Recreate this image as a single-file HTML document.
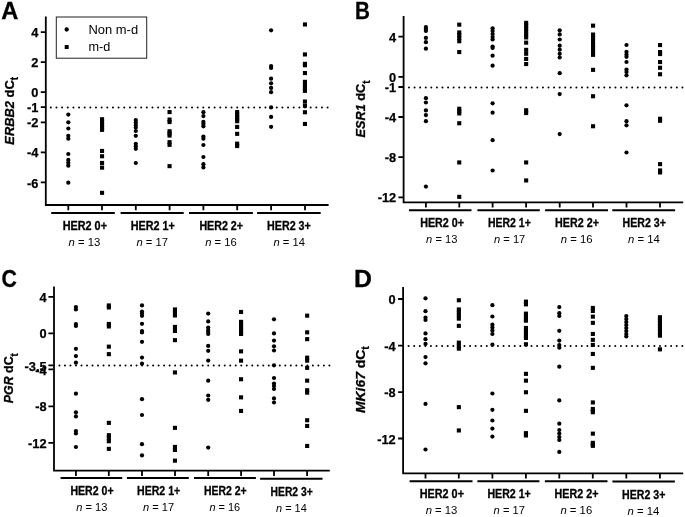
<!DOCTYPE html>
<html lang="en"><head><meta charset="utf-8"><title>Figure</title>
<style>
html,body{margin:0;padding:0;background:#fff;}
body{width:685px;height:517px;overflow:hidden;}
svg{display:block;}
svg text{font-family:"Liberation Sans", "DejaVu Sans", sans-serif;fill:#000;}
.ax{stroke:#000;stroke-width:1.8;stroke-linejoin:miter;fill:none;stroke-linecap:butt;}
.tk{stroke:#000;stroke-width:1.8;fill:none;}
.bar{stroke:#000;stroke-width:2.0;fill:none;}
.dot{stroke:#000;stroke-width:2.0;stroke-linecap:round;fill:none;}
.tl{font-size:12.8px;font-weight:bold;text-anchor:end;stroke:#000;stroke-width:0.25;}
.gl{font-size:12px;font-weight:bold;stroke:#000;stroke-width:0.3;}
.nl{font-size:11.5px;}
.yl{font-size:13px;font-weight:bold;stroke:#000;stroke-width:0.3;}
.pl{font-size:23.2px;font-weight:bold;stroke:#000;stroke-width:0.3;}
.lg{font-size:12px;}
</style></head><body>
<svg width="685" height="517" viewBox="0 0 685 517">
<rect x="0" y="0" width="685" height="517" fill="#fff"/>
<g id="panel-A">
<path class="ax" d="M45.8 16.4 V205.0 H328.6"/>
<path class="tk" d="M40.8 32.1 H45.8M40.8 62.1 H45.8M40.8 92.2 H45.8M40.8 107.2 H45.8M40.8 122.3 H45.8M40.8 152.3 H45.8M40.8 182.4 H45.8"/>
<text class="tl" x="38.4" y="37.2">4</text>
<text class="tl" x="38.4" y="67.2">2</text>
<text class="tl" x="38.4" y="97.3">0</text>
<text class="tl" x="38.4" y="112.3">-1</text>
<text class="tl" x="38.4" y="127.4">-2</text>
<text class="tl" x="38.4" y="157.4">-4</text>
<text class="tl" x="38.4" y="187.5">-6</text>
<path class="tk" d="M68.3 205.0 V210.2M102.0 205.0 V210.2M135.8 205.0 V210.2M169.6 205.0 V210.2M203.4 205.0 V210.2M237.2 205.0 V210.2M271.1 205.0 V210.2M305.0 205.0 V210.2"/>
<path class="bar" d="M51.2 213.0 H114.8M120.6 213.0 H183.7M189.0 213.0 H252.9M257.1 213.0 H320.7"/>
<path class="dot" stroke-dasharray="0 5.649" d="M50.80 107.6 H328.1"/>
<text class="gl" x="62.7" y="230.0" textLength="44.3" lengthAdjust="spacingAndGlyphs">HER2 0+</text>
<text class="gl" x="130.7" y="230.0" textLength="44.1" lengthAdjust="spacingAndGlyphs">HER2 1+</text>
<text class="gl" x="199.4" y="230.0" textLength="43.6" lengthAdjust="spacingAndGlyphs">HER2 2+</text>
<text class="gl" x="267.0" y="230.0" textLength="43.8" lengthAdjust="spacingAndGlyphs">HER2 3+</text>
<text class="nl" x="68.5" y="246.4" textLength="31.8" lengthAdjust="spacingAndGlyphs"><tspan font-style="italic">n</tspan> = 13</text>
<text class="nl" x="136.5" y="246.4" textLength="31.5" lengthAdjust="spacingAndGlyphs"><tspan font-style="italic">n</tspan> = 17</text>
<text class="nl" x="205.2" y="246.4" textLength="31.6" lengthAdjust="spacingAndGlyphs"><tspan font-style="italic">n</tspan> = 16</text>
<text class="nl" x="273.5" y="246.4" textLength="31.5" lengthAdjust="spacingAndGlyphs"><tspan font-style="italic">n</tspan> = 14</text>
<text class="pl" transform="translate(1.3 19.0) scale(1.020 1)">A</text>
<text class="yl" transform="translate(13.6 144.7) rotate(-90)" textLength="67.7" lengthAdjust="spacingAndGlyphs"><tspan font-style="italic">ERBB2</tspan> dC<tspan font-size="10px" dy="4.2">t</tspan></text>
<g fill="#000"><circle cx="68.3" cy="114.6" r="2.12"/><circle cx="68.3" cy="122.3" r="2.12"/><circle cx="68.3" cy="128.5" r="2.12"/><circle cx="68.3" cy="135.8" r="2.12"/><circle cx="68.3" cy="138.7" r="2.12"/><circle cx="68.3" cy="154.0" r="2.12"/><circle cx="68.3" cy="159.9" r="2.12"/><circle cx="68.3" cy="162.8" r="2.12"/><circle cx="68.3" cy="165.7" r="2.12"/><circle cx="68.3" cy="182.7" r="2.12"/><circle cx="135.8" cy="120.0" r="2.12"/><circle cx="135.8" cy="122.5" r="2.12"/><circle cx="135.8" cy="125.0" r="2.12"/><circle cx="135.8" cy="127.5" r="2.12"/><circle cx="135.8" cy="131.0" r="2.12"/><circle cx="135.8" cy="135.8" r="2.12"/><circle cx="135.8" cy="143.8" r="2.12"/><circle cx="135.8" cy="146.3" r="2.12"/><circle cx="135.8" cy="148.8" r="2.12"/><circle cx="135.8" cy="163.0" r="2.12"/><circle cx="203.4" cy="112.2" r="2.12"/><circle cx="203.4" cy="116.1" r="2.12"/><circle cx="203.4" cy="121.9" r="2.12"/><circle cx="203.4" cy="124.0" r="2.12"/><circle cx="203.4" cy="126.3" r="2.12"/><circle cx="203.4" cy="136.5" r="2.12"/><circle cx="203.4" cy="138.7" r="2.12"/><circle cx="203.4" cy="145.0" r="2.12"/><circle cx="203.4" cy="157.0" r="2.12"/><circle cx="203.4" cy="164.2" r="2.12"/><circle cx="203.4" cy="167.4" r="2.12"/><circle cx="271.1" cy="30.3" r="2.12"/><circle cx="271.1" cy="66.1" r="2.12"/><circle cx="271.1" cy="68.0" r="2.12"/><circle cx="271.1" cy="78.7" r="2.12"/><circle cx="271.1" cy="83.3" r="2.12"/><circle cx="271.1" cy="87.9" r="2.12"/><circle cx="271.1" cy="92.2" r="2.12"/><circle cx="271.1" cy="107.4" r="2.12"/><circle cx="271.1" cy="116.9" r="2.12"/><circle cx="271.1" cy="126.8" r="2.12"/></g>
<g fill="#000"><rect x="100.0" y="117.2" width="4.1" height="4.1"/><rect x="100.0" y="120.0" width="4.1" height="4.1"/><rect x="100.0" y="123.0" width="4.1" height="4.1"/><rect x="100.0" y="125.5" width="4.1" height="4.1"/><rect x="100.0" y="127.8" width="4.1" height="4.1"/><rect x="100.0" y="148.9" width="4.1" height="4.1"/><rect x="100.0" y="154.2" width="4.1" height="4.1"/><rect x="100.0" y="160.9" width="4.1" height="4.1"/><rect x="100.0" y="165.6" width="4.1" height="4.1"/><rect x="100.0" y="190.8" width="4.1" height="4.1"/><rect x="167.5" y="110.0" width="4.1" height="4.1"/><rect x="167.5" y="117.5" width="4.1" height="4.1"/><rect x="167.5" y="120.0" width="4.1" height="4.1"/><rect x="167.5" y="129.2" width="4.1" height="4.1"/><rect x="167.5" y="131.4" width="4.1" height="4.1"/><rect x="167.5" y="133.5" width="4.1" height="4.1"/><rect x="167.5" y="140.1" width="4.1" height="4.1"/><rect x="167.5" y="142.8" width="4.1" height="4.1"/><rect x="167.5" y="164.1" width="4.1" height="4.1"/><rect x="235.1" y="110.0" width="4.1" height="4.1"/><rect x="235.1" y="112.5" width="4.1" height="4.1"/><rect x="235.1" y="115.0" width="4.1" height="4.1"/><rect x="235.1" y="117.2" width="4.1" height="4.1"/><rect x="235.1" y="119.2" width="4.1" height="4.1"/><rect x="235.1" y="124.9" width="4.1" height="4.1"/><rect x="235.1" y="131.8" width="4.1" height="4.1"/><rect x="235.1" y="141.6" width="4.1" height="4.1"/><rect x="235.1" y="144.0" width="4.1" height="4.1"/><rect x="302.9" y="22.4" width="4.1" height="4.1"/><rect x="302.9" y="52.4" width="4.1" height="4.1"/><rect x="302.9" y="61.8" width="4.1" height="4.1"/><rect x="302.9" y="63.2" width="4.1" height="4.1"/><rect x="302.9" y="71.0" width="4.1" height="4.1"/><rect x="302.9" y="79.8" width="4.1" height="4.1"/><rect x="302.9" y="83.0" width="4.1" height="4.1"/><rect x="302.9" y="86.0" width="4.1" height="4.1"/><rect x="302.9" y="88.8" width="4.1" height="4.1"/><rect x="302.9" y="99.5" width="4.1" height="4.1"/><rect x="302.9" y="103.7" width="4.1" height="4.1"/><rect x="302.9" y="110.2" width="4.1" height="4.1"/><rect x="302.9" y="121.9" width="4.1" height="4.1"/></g>
</g>
<g id="panel-B">
<path class="ax" d="M403.6 15.9 V202.4 H683.2"/>
<path class="tk" d="M398.4 36.7 H403.6M398.4 76.9 H403.6M398.4 87.0 H403.6M398.4 117.0 H403.6M398.4 157.2 H403.6M398.4 197.3 H403.6"/>
<text class="tl" x="396.2" y="41.8">4</text>
<text class="tl" x="396.2" y="82.0">0</text>
<text class="tl" x="396.2" y="92.1">-1</text>
<text class="tl" x="396.2" y="122.1">-4</text>
<text class="tl" x="396.2" y="162.3">-8</text>
<text class="tl" x="396.2" y="202.4">-12</text>
<path class="tk" d="M425.9 202.4 V207.6M459.3 202.4 V207.6M492.6 202.4 V207.6M526.1 202.4 V207.6M559.7 202.4 V207.6M593.0 202.4 V207.6M626.5 202.4 V207.6M660.0 202.4 V207.6"/>
<path class="bar" d="M409.0 210.3 H471.5M477.4 210.3 H539.8M545.1 210.3 H608.0M612.3 210.3 H675.1"/>
<path class="dot" stroke-dasharray="0 5.580" d="M409.00 87.6 H682.9"/>
<text class="gl" x="420.2" y="227.4" textLength="43.8" lengthAdjust="spacingAndGlyphs">HER2 0+</text>
<text class="gl" x="488.0" y="227.4" textLength="42.8" lengthAdjust="spacingAndGlyphs">HER2 1+</text>
<text class="gl" x="555.1" y="227.4" textLength="43.8" lengthAdjust="spacingAndGlyphs">HER2 2+</text>
<text class="gl" x="622.6" y="227.4" textLength="43.3" lengthAdjust="spacingAndGlyphs">HER2 3+</text>
<text class="nl" x="426.1" y="243.3" textLength="31.3" lengthAdjust="spacingAndGlyphs"><tspan font-style="italic">n</tspan> = 13</text>
<text class="nl" x="494.0" y="243.3" textLength="31.3" lengthAdjust="spacingAndGlyphs"><tspan font-style="italic">n</tspan> = 17</text>
<text class="nl" x="560.8" y="243.3" textLength="31.8" lengthAdjust="spacingAndGlyphs"><tspan font-style="italic">n</tspan> = 16</text>
<text class="nl" x="628.0" y="243.3" textLength="31.8" lengthAdjust="spacingAndGlyphs"><tspan font-style="italic">n</tspan> = 14</text>
<text class="pl" transform="translate(355.0 19.2) scale(0.890 1)">B</text>
<text class="yl" transform="translate(365.4 137.4) rotate(-90)" textLength="57.0" lengthAdjust="spacingAndGlyphs"><tspan font-style="italic">ESR1</tspan> dC<tspan font-size="10px" dy="4.2">t</tspan></text>
<g fill="#000"><circle cx="425.9" cy="27.0" r="2.12"/><circle cx="425.9" cy="29.0" r="2.12"/><circle cx="425.9" cy="31.0" r="2.12"/><circle cx="425.9" cy="37.9" r="2.12"/><circle cx="425.9" cy="42.2" r="2.12"/><circle cx="425.9" cy="48.7" r="2.12"/><circle cx="425.9" cy="98.2" r="2.12"/><circle cx="425.9" cy="102.5" r="2.12"/><circle cx="425.9" cy="110.4" r="2.12"/><circle cx="425.9" cy="115.1" r="2.12"/><circle cx="425.9" cy="121.2" r="2.12"/><circle cx="425.9" cy="186.6" r="2.12"/><circle cx="492.6" cy="28.3" r="2.12"/><circle cx="492.6" cy="31.0" r="2.12"/><circle cx="492.6" cy="34.0" r="2.12"/><circle cx="492.6" cy="37.0" r="2.12"/><circle cx="492.6" cy="39.5" r="2.12"/><circle cx="492.6" cy="46.5" r="2.12"/><circle cx="492.6" cy="48.0" r="2.12"/><circle cx="492.6" cy="55.7" r="2.12"/><circle cx="492.6" cy="65.7" r="2.12"/><circle cx="492.6" cy="103.3" r="2.12"/><circle cx="492.6" cy="112.7" r="2.12"/><circle cx="492.6" cy="140.2" r="2.12"/><circle cx="492.6" cy="170.5" r="2.12"/><circle cx="559.7" cy="30.3" r="2.12"/><circle cx="559.7" cy="34.4" r="2.12"/><circle cx="559.7" cy="39.5" r="2.12"/><circle cx="559.7" cy="45.7" r="2.12"/><circle cx="559.7" cy="49.7" r="2.12"/><circle cx="559.7" cy="53.8" r="2.12"/><circle cx="559.7" cy="57.5" r="2.12"/><circle cx="559.7" cy="73.2" r="2.12"/><circle cx="559.7" cy="94.1" r="2.12"/><circle cx="559.7" cy="134.1" r="2.12"/><circle cx="626.5" cy="45.0" r="2.12"/><circle cx="626.5" cy="51.8" r="2.12"/><circle cx="626.5" cy="54.5" r="2.12"/><circle cx="626.5" cy="56.8" r="2.12"/><circle cx="626.5" cy="62.0" r="2.12"/><circle cx="626.5" cy="69.6" r="2.12"/><circle cx="626.5" cy="72.0" r="2.12"/><circle cx="626.5" cy="75.3" r="2.12"/><circle cx="626.5" cy="105.3" r="2.12"/><circle cx="626.5" cy="121.2" r="2.12"/><circle cx="626.5" cy="125.3" r="2.12"/><circle cx="626.5" cy="152.5" r="2.12"/></g>
<g fill="#000"><rect x="457.2" y="22.6" width="4.1" height="4.1"/><rect x="457.2" y="30.4" width="4.1" height="4.1"/><rect x="457.2" y="33.0" width="4.1" height="4.1"/><rect x="457.2" y="36.0" width="4.1" height="4.1"/><rect x="457.2" y="39.2" width="4.1" height="4.1"/><rect x="457.2" y="50.0" width="4.1" height="4.1"/><rect x="457.2" y="106.7" width="4.1" height="4.1"/><rect x="457.2" y="109.0" width="4.1" height="4.1"/><rect x="457.2" y="111.4" width="4.1" height="4.1"/><rect x="457.2" y="121.2" width="4.1" height="4.1"/><rect x="457.2" y="160.4" width="4.1" height="4.1"/><rect x="457.2" y="194.8" width="4.1" height="4.1"/><rect x="524.1" y="20.8" width="4.1" height="4.1"/><rect x="524.1" y="23.4" width="4.1" height="4.1"/><rect x="524.1" y="26.4" width="4.1" height="4.1"/><rect x="524.1" y="29.4" width="4.1" height="4.1"/><rect x="524.1" y="32.5" width="4.1" height="4.1"/><rect x="524.1" y="35.4" width="4.1" height="4.1"/><rect x="524.1" y="40.6" width="4.1" height="4.1"/><rect x="524.1" y="47.8" width="4.1" height="4.1"/><rect x="524.1" y="51.7" width="4.1" height="4.1"/><rect x="524.1" y="56.9" width="4.1" height="4.1"/><rect x="524.1" y="62.0" width="4.1" height="4.1"/><rect x="524.1" y="108.2" width="4.1" height="4.1"/><rect x="524.1" y="111.0" width="4.1" height="4.1"/><rect x="524.1" y="160.4" width="4.1" height="4.1"/><rect x="524.1" y="178.4" width="4.1" height="4.1"/><rect x="591.0" y="23.6" width="4.1" height="4.1"/><rect x="591.0" y="32.5" width="4.1" height="4.1"/><rect x="591.0" y="36.0" width="4.1" height="4.1"/><rect x="591.0" y="39.5" width="4.1" height="4.1"/><rect x="591.0" y="43.0" width="4.1" height="4.1"/><rect x="591.0" y="46.0" width="4.1" height="4.1"/><rect x="591.0" y="49.5" width="4.1" height="4.1"/><rect x="591.0" y="52.8" width="4.1" height="4.1"/><rect x="591.0" y="67.8" width="4.1" height="4.1"/><rect x="591.0" y="94.2" width="4.1" height="4.1"/><rect x="591.0" y="124.2" width="4.1" height="4.1"/><rect x="658.0" y="43.0" width="4.1" height="4.1"/><rect x="658.0" y="50.0" width="4.1" height="4.1"/><rect x="658.0" y="52.0" width="4.1" height="4.1"/><rect x="658.0" y="60.0" width="4.1" height="4.1"/><rect x="658.0" y="65.7" width="4.1" height="4.1"/><rect x="658.0" y="72.2" width="4.1" height="4.1"/><rect x="658.0" y="116.7" width="4.1" height="4.1"/><rect x="658.0" y="118.7" width="4.1" height="4.1"/><rect x="658.0" y="162.1" width="4.1" height="4.1"/><rect x="658.0" y="168.4" width="4.1" height="4.1"/><rect x="658.0" y="170.4" width="4.1" height="4.1"/></g>
</g>
<g id="panel-C">
<path class="ax" d="M54.0 286.5 V470.7 H329.8"/>
<path class="tk" d="M48.4 296.8 H54.0M48.4 333.3 H54.0M48.4 365.4 H54.0M48.4 369.4 H54.0M48.4 406.3 H54.0M48.4 442.8 H54.0"/>
<text class="tl" x="46.6" y="301.9">4</text>
<text class="tl" x="46.6" y="338.4">0</text>
<text class="tl" x="46.6" y="370.5">-3.5</text>
<text class="tl" x="46.6" y="374.5">-4</text>
<text class="tl" x="46.6" y="411.4">-8</text>
<text class="tl" x="46.6" y="447.9">-12</text>
<path class="tk" d="M75.9 470.7 V475.9M108.8 470.7 V475.9M142.0 470.7 V475.9M175.0 470.7 V475.9M208.2 470.7 V475.9M241.1 470.7 V475.9M274.0 470.7 V475.9M307.1 470.7 V475.9"/>
<path class="bar" d="M60.6 478.0 H122.2M126.9 478.0 H188.8M194.0 478.0 H255.9M260.1 478.8 H322.5"/>
<path class="dot" stroke-dasharray="0 5.509" d="M59.45 365.6 H329.9"/>
<text class="gl" x="70.4" y="495.0" textLength="43.2" lengthAdjust="spacingAndGlyphs">HER2 0+</text>
<text class="gl" x="137.0" y="495.0" textLength="43.2" lengthAdjust="spacingAndGlyphs">HER2 1+</text>
<text class="gl" x="204.0" y="495.0" textLength="42.6" lengthAdjust="spacingAndGlyphs">HER2 2+</text>
<text class="gl" x="270.6" y="496.0" textLength="42.1" lengthAdjust="spacingAndGlyphs">HER2 3+</text>
<text class="nl" x="76.2" y="511.4" textLength="31.1" lengthAdjust="spacingAndGlyphs"><tspan font-style="italic">n</tspan> = 13</text>
<text class="nl" x="143.0" y="511.4" textLength="31.2" lengthAdjust="spacingAndGlyphs"><tspan font-style="italic">n</tspan> = 17</text>
<text class="nl" x="209.4" y="511.4" textLength="30.8" lengthAdjust="spacingAndGlyphs"><tspan font-style="italic">n</tspan> = 16</text>
<text class="nl" x="276.0" y="512.4" textLength="30.8" lengthAdjust="spacingAndGlyphs"><tspan font-style="italic">n</tspan> = 14</text>
<text class="pl" transform="translate(1.5 287.2) scale(0.920 1)">C</text>
<text class="yl" transform="translate(13.4 403.2) rotate(-90)" textLength="50.0" lengthAdjust="spacingAndGlyphs"><tspan font-style="italic">PGR</tspan> dC<tspan font-size="10px" dy="4.2">t</tspan></text>
<g fill="#000"><circle cx="75.9" cy="307.0" r="2.12"/><circle cx="75.9" cy="309.5" r="2.12"/><circle cx="75.9" cy="324.0" r="2.12"/><circle cx="75.9" cy="326.0" r="2.12"/><circle cx="75.9" cy="348.8" r="2.12"/><circle cx="75.9" cy="356.1" r="2.12"/><circle cx="75.9" cy="362.7" r="2.12"/><circle cx="75.9" cy="393.7" r="2.12"/><circle cx="75.9" cy="412.3" r="2.12"/><circle cx="75.9" cy="416.4" r="2.12"/><circle cx="75.9" cy="431.1" r="2.12"/><circle cx="75.9" cy="433.5" r="2.12"/><circle cx="75.9" cy="447.0" r="2.12"/><circle cx="142.0" cy="305.4" r="2.12"/><circle cx="142.0" cy="311.5" r="2.12"/><circle cx="142.0" cy="313.5" r="2.12"/><circle cx="142.0" cy="315.8" r="2.12"/><circle cx="142.0" cy="323.8" r="2.12"/><circle cx="142.0" cy="331.0" r="2.12"/><circle cx="142.0" cy="332.5" r="2.12"/><circle cx="142.0" cy="341.8" r="2.12"/><circle cx="142.0" cy="357.6" r="2.12"/><circle cx="142.0" cy="363.7" r="2.12"/><circle cx="142.0" cy="399.2" r="2.12"/><circle cx="142.0" cy="415.0" r="2.12"/><circle cx="142.0" cy="444.2" r="2.12"/><circle cx="142.0" cy="455.4" r="2.12"/><circle cx="208.2" cy="313.6" r="2.12"/><circle cx="208.2" cy="321.4" r="2.12"/><circle cx="208.2" cy="327.5" r="2.12"/><circle cx="208.2" cy="330.0" r="2.12"/><circle cx="208.2" cy="332.0" r="2.12"/><circle cx="208.2" cy="334.0" r="2.12"/><circle cx="208.2" cy="345.9" r="2.12"/><circle cx="208.2" cy="350.8" r="2.12"/><circle cx="208.2" cy="360.6" r="2.12"/><circle cx="208.2" cy="380.7" r="2.12"/><circle cx="208.2" cy="395.5" r="2.12"/><circle cx="208.2" cy="399.8" r="2.12"/><circle cx="208.2" cy="447.6" r="2.12"/><circle cx="274.0" cy="319.3" r="2.12"/><circle cx="274.0" cy="333.4" r="2.12"/><circle cx="274.0" cy="340.6" r="2.12"/><circle cx="274.0" cy="346.3" r="2.12"/><circle cx="274.0" cy="350.5" r="2.12"/><circle cx="274.0" cy="365.3" r="2.12"/><circle cx="274.0" cy="378.0" r="2.12"/><circle cx="274.0" cy="383.5" r="2.12"/><circle cx="274.0" cy="386.0" r="2.12"/><circle cx="274.0" cy="389.0" r="2.12"/><circle cx="274.0" cy="398.4" r="2.12"/><circle cx="274.0" cy="402.5" r="2.12"/></g>
<g fill="#000"><rect x="106.8" y="303.4" width="4.1" height="4.1"/><rect x="106.8" y="305.4" width="4.1" height="4.1"/><rect x="106.8" y="321.9" width="4.1" height="4.1"/><rect x="106.8" y="324.4" width="4.1" height="4.1"/><rect x="106.8" y="344.6" width="4.1" height="4.1"/><rect x="106.8" y="352.1" width="4.1" height="4.1"/><rect x="106.8" y="420.8" width="4.1" height="4.1"/><rect x="106.8" y="433.1" width="4.1" height="4.1"/><rect x="106.8" y="436.2" width="4.1" height="4.1"/><rect x="106.8" y="439.2" width="4.1" height="4.1"/><rect x="106.8" y="446.8" width="4.1" height="4.1"/><rect x="172.9" y="307.4" width="4.1" height="4.1"/><rect x="172.9" y="310.4" width="4.1" height="4.1"/><rect x="172.9" y="313.4" width="4.1" height="4.1"/><rect x="172.9" y="324.9" width="4.1" height="4.1"/><rect x="172.9" y="328.9" width="4.1" height="4.1"/><rect x="172.9" y="338.1" width="4.1" height="4.1"/><rect x="172.9" y="370.4" width="4.1" height="4.1"/><rect x="172.9" y="425.8" width="4.1" height="4.1"/><rect x="172.9" y="444.9" width="4.1" height="4.1"/><rect x="172.9" y="447.9" width="4.1" height="4.1"/><rect x="172.9" y="458.6" width="4.1" height="4.1"/><rect x="239.0" y="309.9" width="4.1" height="4.1"/><rect x="239.0" y="319.8" width="4.1" height="4.1"/><rect x="239.0" y="322.4" width="4.1" height="4.1"/><rect x="239.0" y="324.9" width="4.1" height="4.1"/><rect x="239.0" y="327.4" width="4.1" height="4.1"/><rect x="239.0" y="329.9" width="4.1" height="4.1"/><rect x="239.0" y="331.9" width="4.1" height="4.1"/><rect x="239.0" y="349.3" width="4.1" height="4.1"/><rect x="239.0" y="358.6" width="4.1" height="4.1"/><rect x="239.0" y="377.2" width="4.1" height="4.1"/><rect x="239.0" y="395.3" width="4.1" height="4.1"/><rect x="239.0" y="408.9" width="4.1" height="4.1"/><rect x="305.1" y="313.6" width="4.1" height="4.1"/><rect x="305.1" y="330.3" width="4.1" height="4.1"/><rect x="305.1" y="337.1" width="4.1" height="4.1"/><rect x="305.1" y="355.6" width="4.1" height="4.1"/><rect x="305.1" y="358.6" width="4.1" height="4.1"/><rect x="305.1" y="365.8" width="4.1" height="4.1"/><rect x="305.1" y="378.6" width="4.1" height="4.1"/><rect x="305.1" y="388.2" width="4.1" height="4.1"/><rect x="305.1" y="390.6" width="4.1" height="4.1"/><rect x="305.1" y="418.2" width="4.1" height="4.1"/><rect x="305.1" y="423.9" width="4.1" height="4.1"/><rect x="305.1" y="443.9" width="4.1" height="4.1"/></g>
</g>
<g id="panel-D">
<path class="ax" d="M403.1 287.0 V473.4 H683.2"/>
<path class="tk" d="M398.1 299.0 H403.1M398.1 345.6 H403.1M398.1 392.1 H403.1M398.1 438.5 H403.1"/>
<text class="tl" x="395.7" y="304.1">0</text>
<text class="tl" x="395.7" y="350.7">-4</text>
<text class="tl" x="395.7" y="397.2">-8</text>
<text class="tl" x="395.7" y="443.6">-12</text>
<path class="tk" d="M425.5 473.4 V478.6M458.8 473.4 V478.6M492.4 473.4 V478.6M525.9 473.4 V478.6M559.3 473.4 V478.6M592.8 473.4 V478.6M626.3 473.4 V478.6M659.9 473.4 V478.6"/>
<path class="bar" d="M409.6 481.2 H472.5M477.4 481.2 H539.4M544.9 481.2 H607.5M612.4 481.4 H674.9"/>
<path class="dot" stroke-dasharray="0 5.586" d="M408.60 346.0 H682.8"/>
<text class="gl" x="419.7" y="498.3" textLength="44.3" lengthAdjust="spacingAndGlyphs">HER2 0+</text>
<text class="gl" x="487.4" y="498.3" textLength="43.4" lengthAdjust="spacingAndGlyphs">HER2 1+</text>
<text class="gl" x="554.6" y="498.3" textLength="43.8" lengthAdjust="spacingAndGlyphs">HER2 2+</text>
<text class="gl" x="622.1" y="498.9" textLength="43.3" lengthAdjust="spacingAndGlyphs">HER2 3+</text>
<text class="nl" x="425.7" y="514.4" textLength="31.7" lengthAdjust="spacingAndGlyphs"><tspan font-style="italic">n</tspan> = 13</text>
<text class="nl" x="493.6" y="514.4" textLength="31.3" lengthAdjust="spacingAndGlyphs"><tspan font-style="italic">n</tspan> = 17</text>
<text class="nl" x="560.4" y="514.4" textLength="31.8" lengthAdjust="spacingAndGlyphs"><tspan font-style="italic">n</tspan> = 16</text>
<text class="nl" x="627.6" y="515.0" textLength="31.8" lengthAdjust="spacingAndGlyphs"><tspan font-style="italic">n</tspan> = 14</text>
<text class="pl" transform="translate(354.0 287.0) scale(1.070 1)">D</text>
<text class="yl" transform="translate(365.1 413.0) rotate(-90)" textLength="66.8" lengthAdjust="spacingAndGlyphs"><tspan font-style="italic">MKi67</tspan> dC<tspan font-size="10px" dy="4.2">t</tspan></text>
<g fill="#000"><circle cx="425.5" cy="298.3" r="2.12"/><circle cx="425.5" cy="311.2" r="2.12"/><circle cx="425.5" cy="317.5" r="2.12"/><circle cx="425.5" cy="320.0" r="2.12"/><circle cx="425.5" cy="333.4" r="2.12"/><circle cx="425.5" cy="339.2" r="2.12"/><circle cx="425.5" cy="343.9" r="2.12"/><circle cx="425.5" cy="357.1" r="2.12"/><circle cx="425.5" cy="363.3" r="2.12"/><circle cx="425.5" cy="403.9" r="2.12"/><circle cx="425.5" cy="449.5" r="2.12"/><circle cx="492.4" cy="305.2" r="2.12"/><circle cx="492.4" cy="316.5" r="2.12"/><circle cx="492.4" cy="324.7" r="2.12"/><circle cx="492.4" cy="327.5" r="2.12"/><circle cx="492.4" cy="330.5" r="2.12"/><circle cx="492.4" cy="334.0" r="2.12"/><circle cx="492.4" cy="344.7" r="2.12"/><circle cx="492.4" cy="393.5" r="2.12"/><circle cx="492.4" cy="409.8" r="2.12"/><circle cx="492.4" cy="420.5" r="2.12"/><circle cx="492.4" cy="428.6" r="2.12"/><circle cx="492.4" cy="436.6" r="2.12"/><circle cx="559.3" cy="307.1" r="2.12"/><circle cx="559.3" cy="313.2" r="2.12"/><circle cx="559.3" cy="316.0" r="2.12"/><circle cx="559.3" cy="330.8" r="2.12"/><circle cx="559.3" cy="340.6" r="2.12"/><circle cx="559.3" cy="345.0" r="2.12"/><circle cx="559.3" cy="347.7" r="2.12"/><circle cx="559.3" cy="366.7" r="2.12"/><circle cx="559.3" cy="400.4" r="2.12"/><circle cx="559.3" cy="423.7" r="2.12"/><circle cx="559.3" cy="430.0" r="2.12"/><circle cx="559.3" cy="433.5" r="2.12"/><circle cx="559.3" cy="437.0" r="2.12"/><circle cx="559.3" cy="440.0" r="2.12"/><circle cx="559.3" cy="451.9" r="2.12"/><circle cx="626.3" cy="316.0" r="2.12"/><circle cx="626.3" cy="319.0" r="2.12"/><circle cx="626.3" cy="322.0" r="2.12"/><circle cx="626.3" cy="325.0" r="2.12"/><circle cx="626.3" cy="328.0" r="2.12"/><circle cx="626.3" cy="331.0" r="2.12"/><circle cx="626.3" cy="334.0" r="2.12"/><circle cx="626.3" cy="336.5" r="2.12"/></g>
<g fill="#000"><rect x="456.8" y="298.2" width="4.1" height="4.1"/><rect x="456.8" y="307.4" width="4.1" height="4.1"/><rect x="456.8" y="310.4" width="4.1" height="4.1"/><rect x="456.8" y="313.4" width="4.1" height="4.1"/><rect x="456.8" y="316.6" width="4.1" height="4.1"/><rect x="456.8" y="323.8" width="4.1" height="4.1"/><rect x="456.8" y="340.6" width="4.1" height="4.1"/><rect x="456.8" y="343.6" width="4.1" height="4.1"/><rect x="456.8" y="346.6" width="4.1" height="4.1"/><rect x="456.8" y="405.1" width="4.1" height="4.1"/><rect x="456.8" y="428.4" width="4.1" height="4.1"/><rect x="523.9" y="299.6" width="4.1" height="4.1"/><rect x="523.9" y="302.3" width="4.1" height="4.1"/><rect x="523.9" y="311.6" width="4.1" height="4.1"/><rect x="523.9" y="314.4" width="4.1" height="4.1"/><rect x="523.9" y="317.4" width="4.1" height="4.1"/><rect x="523.9" y="318.6" width="4.1" height="4.1"/><rect x="523.9" y="325.9" width="4.1" height="4.1"/><rect x="523.9" y="329.9" width="4.1" height="4.1"/><rect x="523.9" y="333.4" width="4.1" height="4.1"/><rect x="523.9" y="335.9" width="4.1" height="4.1"/><rect x="523.9" y="342.2" width="4.1" height="4.1"/><rect x="523.9" y="371.8" width="4.1" height="4.1"/><rect x="523.9" y="378.6" width="4.1" height="4.1"/><rect x="523.9" y="390.2" width="4.1" height="4.1"/><rect x="523.9" y="408.8" width="4.1" height="4.1"/><rect x="523.9" y="431.1" width="4.1" height="4.1"/><rect x="523.9" y="433.4" width="4.1" height="4.1"/><rect x="590.8" y="305.9" width="4.1" height="4.1"/><rect x="590.8" y="308.9" width="4.1" height="4.1"/><rect x="590.8" y="314.6" width="4.1" height="4.1"/><rect x="590.8" y="320.8" width="4.1" height="4.1"/><rect x="590.8" y="331.9" width="4.1" height="4.1"/><rect x="590.8" y="337.8" width="4.1" height="4.1"/><rect x="590.8" y="342.9" width="4.1" height="4.1"/><rect x="590.8" y="351.9" width="4.1" height="4.1"/><rect x="590.8" y="365.8" width="4.1" height="4.1"/><rect x="590.8" y="400.4" width="4.1" height="4.1"/><rect x="590.8" y="406.9" width="4.1" height="4.1"/><rect x="590.8" y="408.6" width="4.1" height="4.1"/><rect x="590.8" y="410.2" width="4.1" height="4.1"/><rect x="590.8" y="431.6" width="4.1" height="4.1"/><rect x="590.8" y="440.8" width="4.1" height="4.1"/><rect x="590.8" y="442.4" width="4.1" height="4.1"/><rect x="590.8" y="443.8" width="4.1" height="4.1"/><rect x="657.9" y="315.2" width="4.1" height="4.1"/><rect x="657.9" y="317.9" width="4.1" height="4.1"/><rect x="657.9" y="320.9" width="4.1" height="4.1"/><rect x="657.9" y="323.9" width="4.1" height="4.1"/><rect x="657.9" y="326.9" width="4.1" height="4.1"/><rect x="657.9" y="329.9" width="4.1" height="4.1"/><rect x="657.9" y="333.6" width="4.1" height="4.1"/><rect x="657.9" y="347.3" width="4.1" height="4.1"/></g>
</g>
<g id="legend">
<rect x="56.3" y="17.0" width="90.4" height="41.2" fill="#fff" stroke="#222" stroke-width="1"/>
<circle cx="66.7" cy="29.5" r="2.15" fill="#000"/>
<rect x="64.7" y="45.0" width="4" height="4" fill="#000"/>
<text class="lg" x="88.5" y="33.5" textLength="49.6" lengthAdjust="spacingAndGlyphs">Non m-d</text>
<text class="lg" x="88.5" y="51.4" textLength="21.9" lengthAdjust="spacingAndGlyphs">m-d</text>
</g>
</svg>
</body></html>
